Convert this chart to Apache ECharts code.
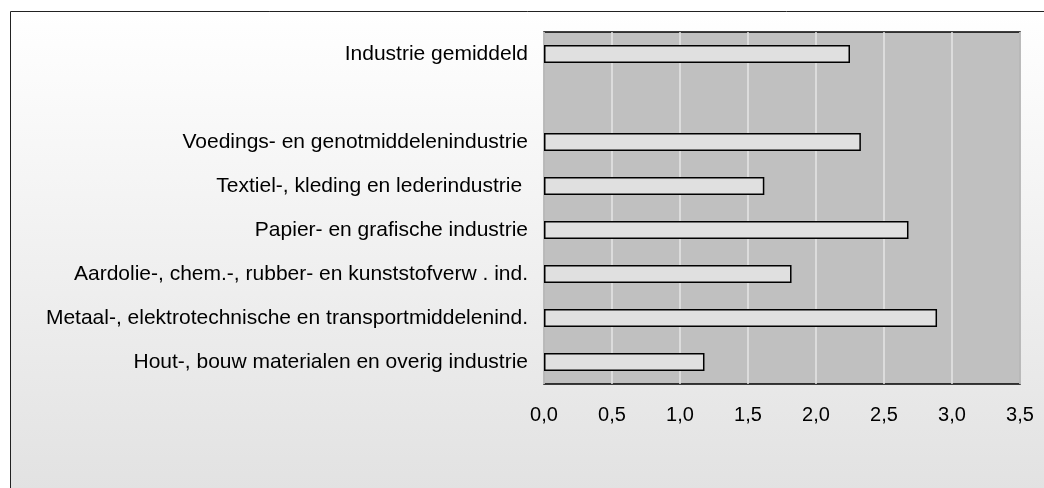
<!DOCTYPE html>
<html>
<head>
<meta charset="utf-8">
<script src="https://cdn.jsdelivr.net/npm/echarts@6/dist/echarts.min.js"></script>
<style>
html,body{margin:0;padding:0;background:#fff;}
#chart{width:1044px;height:488px;}
</style>
</head>
<body>
<div id="chart"></div>
<script>
var categories = [
  'Industrie gemiddeld',
  '',
  'Voedings- en genotmiddelenindustrie',
  'Textiel-, kleding en lederindustrie ',
  'Papier- en grafische industrie',
  'Aardolie-, chem.-, rubber- en kunststofverw . ind.',
  'Metaal-, elektrotechnische en transportmiddelenind.',
  'Hout-, bouw materialen en overig industrie'
];
var values = [2.25, null, 2.33, 1.62, 2.68, 1.82, 2.89, 1.18];
var tickLabels = ['0,0', '0,5', '1,0', '1,5', '2,0', '2,5', '3,0', '3,5'];

var chart = echarts.init(document.getElementById('chart'), null, {renderer: 'canvas'});
var font = '"Liberation Sans", Arial, sans-serif';
chart.setOption({
  animation: false,
  backgroundColor: '#ffffff',
  graphic: [{
    type: 'rect',
    z: -100,
    shape: {x: 10.5, y: 11.5, width: 1100, height: 600},
    style: {
      fill: new echarts.graphic.LinearGradient(0, 0, 0, 1, [
        {offset: 0, color: '#ffffff'},
        {offset: 0.8, color: '#e2e2e2'},
        {offset: 1, color: '#e0e0e0'}
      ]),
      stroke: '#222',
      lineWidth: 1
    }
  }],
  grid: {
    left: 544, top: 32, width: 476, height: 352,
    show: true, backgroundColor: '#c0c0c0', borderColor: '#000', borderWidth: 1.5,
    containLabel: false
  },
  xAxis: {
    type: 'value', min: 0, max: 3.5, interval: 0.5,
    axisLine: {show: false}, axisTick: {show: false},
    splitLine: {show: true, lineStyle: {color: '#e6e6e6', width: 1.5}},
    axisLabel: {
      fontFamily: font, fontSize: 20, color: '#000', margin: 21,
      formatter: function (v) { return tickLabels[Math.round(v / 0.5)]; }
    }
  },
  yAxis: {
    type: 'category', data: categories, inverse: true,
    axisLine: {show: false}, axisTick: {show: false},
    axisLabel: {fontFamily: font, fontSize: 21, color: '#000', margin: 16}
  },
  series: [{
    type: 'bar', data: values, barWidth: 18,
    itemStyle: {color: '#e0e0e0', borderColor: '#000', borderWidth: 1.5}
  }]
});
</script>
</body>
</html>
